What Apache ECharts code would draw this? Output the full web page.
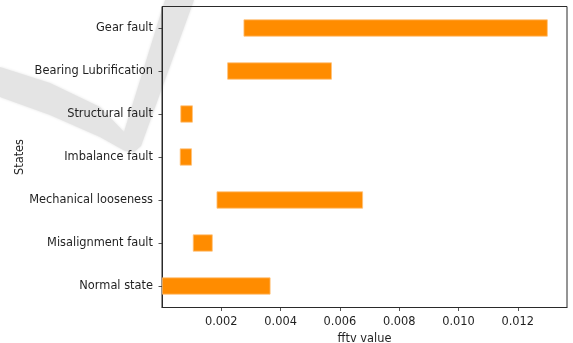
<!DOCTYPE html>
<html>
<head>
<meta charset="utf-8">
<script src="https://cdn.jsdelivr.net/npm/echarts@6/dist/echarts.min.js"></script>
<style>
  html, body { margin: 0; padding: 0; background: #fff; }
  #chart { width: 573px; height: 343px; }
</style>
</head>
<body>
<div id="chart"></div>
<script>
// Machine states, listed bottom to top on the category axis
const states = ['Normal state', 'Misalignment fault', 'Mechanical looseness', 'Imbalance fault',
                'Structural fault', 'Bearing Lubrification', 'Gear fault'];
// fftv range per state: where each bar begins and ends
const rangeStart = [0.00000, 0.00104, 0.00184, 0.00060, 0.00062, 0.00220, 0.00275];
const rangeEnd   = [0.00366, 0.00171, 0.00678, 0.00101, 0.00104, 0.00573, 0.01301];
// x-axis ticks
const xTicks = [0.002, 0.004, 0.006, 0.008, 0.010, 0.012];

const spans = rangeEnd.map((e, i) => e - rangeStart[i]);

const FONT = 'DejaVu Sans';
const FS = 11.4;
const INK = '#1f1f1f';
const FRAME = '#2a2a2a';

const chart = echarts.init(document.getElementById('chart'), null, { renderer: 'canvas' });

chart.setOption({
  animation: false,
  backgroundColor: '#ffffff',
  textStyle: { fontFamily: FONT },
  grid: {
    left: 162, right: 6, top: 6.5, bottom: 35.5,
    outerBoundsMode: 'none',
    containLabel: false,
    show: true, borderColor: FRAME, borderWidth: 1,
    backgroundColor: 'transparent'
  },
  // light grey check-mark swoosh in the upper left
  graphic: [{
    type: 'polygon',
    z: -10,
    silent: true,
    shape: {
      points: [[0, 67], [50, 83], [100, 107], [124, 132], [165, 0],
               [194, 0], [141, 146], [134, 152], [125, 151],
               [100, 137], [50, 115], [0, 97]]
    },
    style: { fill: '#e4e4e4', shadowBlur: 3, shadowColor: '#e4e4e4' }
  }],
  xAxis: {
    type: 'value',
    min: 0,
    max: 0.01366,
    name: 'fftv value',
    nameLocation: 'middle',
    nameGap: 26,
    nameMoveOverlap: false,
    nameTextStyle: { fontFamily: FONT, fontSize: FS, color: INK },
    splitLine: { show: false },
    axisLine: { show: true, lineStyle: { color: FRAME, width: 1 } },
    axisTick: {
      show: true, length: 3.5, inside: false,
      customValues: xTicks,
      lineStyle: { color: FRAME, width: 0.8 }
    },
    axisLabel: {
      customValues: xTicks,
      margin: 9,
      fontFamily: FONT, fontSize: FS, color: INK,
      formatter: v => v.toFixed(3)
    }
  },
  yAxis: {
    type: 'category',
    data: states,
    name: 'States',
    nameLocation: 'middle',
    nameRotate: 90,
    nameGap: 136,
    nameMoveOverlap: false,
    nameTextStyle: { fontFamily: FONT, fontSize: FS, color: INK },
    axisLine: { show: true, lineStyle: { color: FRAME, width: 1 } },
    axisTick: {
      show: true, length: 3.5, alignWithLabel: true,
      lineStyle: { color: FRAME, width: 0.8 }
    },
    axisLabel: { margin: 9, fontFamily: FONT, fontSize: FS, color: INK },
    splitLine: { show: false }
  },
  series: [
    {
      name: 'start',
      type: 'bar',
      stack: 'range',
      barWidth: '40%',
      silent: true,
      itemStyle: { color: 'transparent' },
      data: rangeStart
    },
    {
      name: 'fftv',
      type: 'bar',
      stack: 'range',
      barWidth: '40%',
      itemStyle: { color: '#ff8c00', borderColor: '#ffc27a', borderWidth: 0.8 },
      data: spans
    }
  ]
});
</script>
</body>
</html>
